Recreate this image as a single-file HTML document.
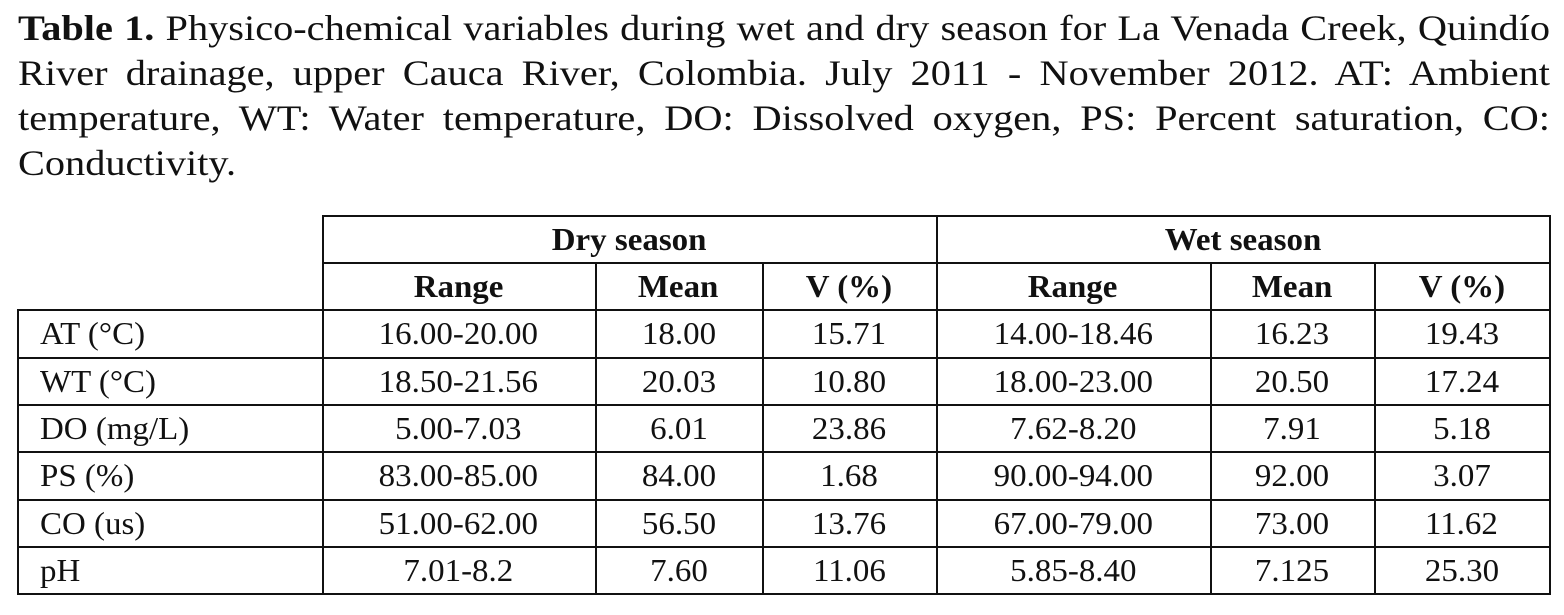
<!DOCTYPE html>
<html><head><meta charset="utf-8"><style>
body{margin:0;width:1564px;height:615px;background:#fff;overflow:hidden;font-family:"Liberation Serif",serif;color:#111}
.cl{position:absolute;left:18px;font-size:36px;line-height:44px;white-space:nowrap;transform-origin:0 0}
.l{position:absolute;background:#111}
.c{position:absolute;font-size:32px;line-height:48px;text-align:center}
.c span{display:inline-block;transform:scaleX(1.03)}
.b{font-weight:bold}
</style></head><body>
<div>
<div class="cl" style="top:6px"><b>Table 1.</b> Physico-chemical variables during wet and dry season for La Venada Creek, Quindío</div>
<div class="cl" style="top:51px">River drainage, upper Cauca River, Colombia. July 2011 - November 2012. AT: Ambient</div>
<div class="cl" style="top:96px">temperature, WT: Water temperature, DO: Dissolved oxygen, PS: Percent saturation, CO:</div>
<div class="cl" style="top:141px">Conductivity.</div>
</div>
<div id="t"></div>
<script>
const cols=[17,322,595,762,936,1210,1374,1549];
const rows=[215,262,309,357,404,451,499,546,593];
const labels=["AT (°C)","WT (°C)","DO (mg/L)","PS (%)","CO (us)","pH"];
const dry=[["16.00-20.00","18.00","15.71"],["18.50-21.56","20.03","10.80"],["5.00-7.03","6.01","23.86"],["83.00-85.00","84.00","1.68"],["51.00-62.00","56.50","13.76"],["7.01-8.2","7.60","11.06"]];
const wet=[["14.00-18.46","16.23","19.43"],["18.00-23.00","20.50","17.24"],["7.62-8.20","7.91","5.18"],["90.00-94.00","92.00","3.07"],["67.00-79.00","73.00","11.62"],["5.85-8.40","7.125","25.30"]];
const SX=1.12;
const cls=document.querySelectorAll('.cl');
cls.forEach((el,i)=>{const w=el.getBoundingClientRect().width;
 if(i<3){const target=1532/SX;
  if(w>target){el.style.transform=`scaleX(${1532/w})`;}
  else{const n=el.textContent.split(' ').length-1;el.style.wordSpacing=((target-w)/n)+'px';el.style.transform=`scaleX(${SX})`;}}
 else el.style.transform=`scaleX(${SX})`;});
const t=document.getElementById('t');
function line(x,y,w,h){const d=document.createElement('div');d.className='l';


d.style.cssText=`left:${x}px;top:${y}px;width:${w}px;height:${h}px`;t.appendChild(d);}
function cell(x1,x2,y,txt,cls,align){const d=document.createElement('div');d.className='c '+(cls||'');


d.style.cssText=`left:${x1}px;top:${y}px;width:${x2-x1}px;`+(align?'text-align:left;padding-left:23px;box-sizing:border-box;':'');
const s=document.createElement('span');s.textContent=txt;if(align)s.style.transformOrigin='0 0';d.appendChild(s);t.appendChild(d);}
line(cols[1],rows[0],cols[7]-cols[1]+2,2);
line(cols[1],rows[1],cols[7]-cols[1]+2,2);
for(let i=2;i<rows.length;i++)line(cols[0],rows[i],cols[7]-cols[0]+2,2);
line(cols[0],rows[2],2,rows[8]-rows[2]+2);
line(cols[1],rows[0],2,rows[8]-rows[0]+2);
line(cols[4],rows[0],2,rows[8]-rows[0]+2);
line(cols[7],rows[0],2,rows[8]-rows[0]+2);
[2,3,5,6].forEach(i=>line(cols[i],rows[1],2,rows[8]-rows[1]+2));
cell(cols[1],cols[4],rows[0],"Dry season","b");
cell(cols[4],cols[7],rows[0],"Wet season","b");
const hd=["Range","Mean","V (%)","Range","Mean","V (%)"];
hd.forEach((h,i)=>cell(cols[i+1],cols[i+2],rows[1],h,"b"));
labels.forEach((lab,r)=>{const y=rows[r+2];
cell(cols[0],cols[1],y,lab,"",true);
dry[r].forEach((v,i)=>cell(cols[i+1],cols[i+2],y,v));
wet[r].forEach((v,i)=>cell(cols[i+4],cols[i+5],y,v));});
</script>
</body></html>
